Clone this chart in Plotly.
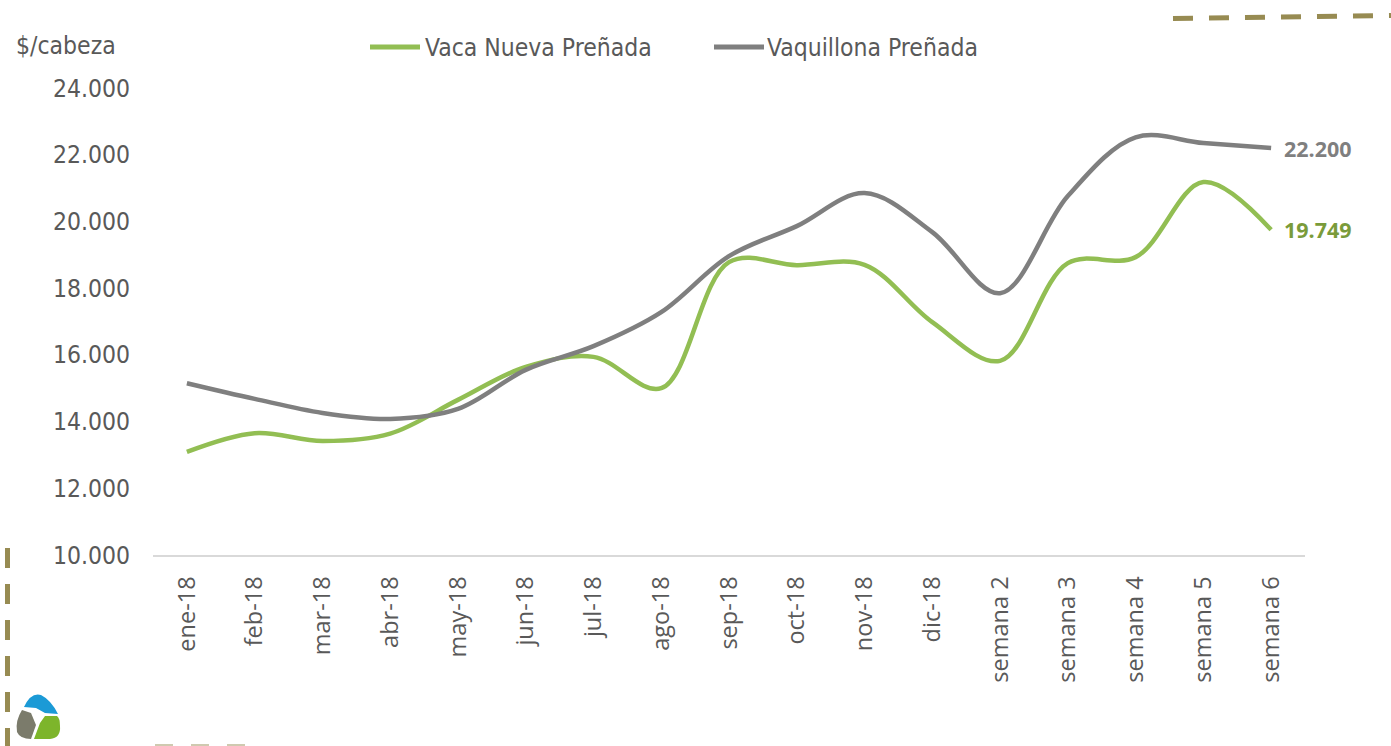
import plotly.graph_objects as go

categories = ["ene-18", "feb-18", "mar-18", "abr-18", "may-18", "jun-18", "jul-18",
              "ago-18", "sep-18", "oct-18", "nov-18", "dic-18", "semana 2",
              "semana 3", "semana 4", "semana 5", "semana 6"]
vaca_nueva = [13090, 13650, 13420, 13640, 14650, 15640, 15940, 15000, 18780,
              18690, 18700, 16980, 15820, 18750, 18930, 21180, 19749]
vaquillona = [15150, 14680, 14260, 14080, 14380, 15550, 16260, 17280, 18960,
              19860, 20850, 19680, 17850, 20760, 22520, 22350, 22200]
y_ticks = [10000, 12000, 14000, 16000, 18000, 20000, 22000, 24000]

W, H = 1391, 746
L, R, T, B = 153, 86, 88, 191
PW, PH = W - L - R, H - T - B

GREEN = "#92BE53"
GREEN_LBL = "#7A9B3A"
GRAY = "#7F7F7F"
OLIVE = "#978B52"
COND = "DejaVu Sans Condensed, DejaVu Sans, sans-serif"
BOLD = "Open Sans, sans-serif"


def fmt(v):
    return f"{v:,}".replace(",", ".")


def px(x):
    return (x - L) / PW


def py(y):
    return (H - B - y) / PH


def P(x, y):
    return f"{px(x):.5f},{py(y):.5f}"


fig = go.Figure()
fig.add_trace(go.Scatter(x=categories, y=vaca_nueva, mode="lines",
                         name="Vaca Nueva Preñada",
                         line=dict(color=GREEN, width=4.5, shape="spline", smoothing=1.0)))
fig.add_trace(go.Scatter(x=categories, y=vaquillona, mode="lines",
                         name="Vaquillona Preñada",
                         line=dict(color=GRAY, width=4.5, shape="spline", smoothing=1.0)))

annotations = [
    dict(x=categories[-1], y=vaquillona[-1], xref="x", yref="y", text=f"<b>{fmt(vaquillona[-1])}</b>",
         showarrow=False, xanchor="left", yanchor="middle", xshift=11,
         font=dict(family=BOLD, size=21.5, color=GRAY)),
    dict(x=categories[-1], y=vaca_nueva[-1], xref="x", yref="y", text=f"<b>{fmt(vaca_nueva[-1])}</b>",
         showarrow=False, xanchor="left", yanchor="middle", xshift=11,
         font=dict(family=BOLD, size=21.5, color=GREEN_LBL)),
    dict(x=px(14), y=py(46), xref="paper", yref="paper", text="$/cabeza", showarrow=False,
         xanchor="left", yanchor="middle", font=dict(family=COND, size=24.5, color="#595959")),
    dict(x=px(423), y=py(47), xref="paper", yref="paper", text="Vaca Nueva Preñada", showarrow=False,
         xanchor="left", yanchor="middle", font=dict(family=COND, size=24.5, color="#595959")),
    dict(x=px(765), y=py(47), xref="paper", yref="paper", text="Vaquillona Preñada", showarrow=False,
         xanchor="left", yanchor="middle", font=dict(family=COND, size=24.5, color="#595959")),
]

shapes = [
    # legend swatches
    dict(type="line", xref="paper", yref="paper", x0=px(370), x1=px(420), y0=py(47), y1=py(47),
         line=dict(color=GREEN, width=5)),
    dict(type="line", xref="paper", yref="paper", x0=px(714), x1=px(764), y0=py(47), y1=py(47),
         line=dict(color=GRAY, width=5)),
    # decorative dashed lines
    dict(type="line", xref="paper", yref="paper", x0=px(1173), x1=px(1391), y0=py(18.5), y1=py(15.5),
         line=dict(color=OLIVE, width=5, dash="20px,16px")),
    dict(type="line", xref="paper", yref="paper", x0=px(7.5), x1=px(7.5), y0=py(548), y1=py(746),
         line=dict(color=OLIVE, width=5, dash="20px,16px")),
    dict(type="line", xref="paper", yref="paper", x0=px(155), x1=px(250), y0=py(745), y1=py(745),
         line=dict(color="#CFCAB0", width=2, dash="18px,18px")),
    # logo: blue top
    dict(type="path", xref="paper", yref="paper", fillcolor="#1B9AD6", line=dict(width=0),
         path=f"M {P(24,707)} Q {P(31,692)} {P(41,695)} Q {P(51,700)} {P(58,714)} "
              f"L {P(45,713)} L {P(36,708)} Z"),
    # logo: gray left
    dict(type="path", xref="paper", yref="paper", fillcolor="#7B7B6B", line=dict(width=0),
         path=f"M {P(22,710)} Q {P(15,721)} {P(17,732)} Q {P(20,739)} {P(31,739)} "
              f"L {P(36,725)} L {P(31,713)} Z"),
    # logo: green bottom right
    dict(type="path", xref="paper", yref="paper", fillcolor="#7DB52B", line=dict(width=0),
         path=f"M {P(34,739)} L {P(50,739)} Q {P(61,738)} {P(60,726)} Q {P(60,718)} {P(57,716)} "
              f"L {P(45,716)} L {P(40,723)} Z"),
]

fig.update_layout(
    width=W, height=H, autosize=False,
    margin=dict(l=L, r=R, t=T, b=B, pad=0),
    paper_bgcolor="white", plot_bgcolor="white",
    showlegend=False,
    annotations=annotations,
    shapes=shapes,
    xaxis=dict(type="category", categoryorder="array", categoryarray=categories,
               range=[-0.5, len(categories) - 0.5],
               showgrid=False, zeroline=False, showline=True, linecolor="#D9D9D9", linewidth=2,
               ticks="", tickangle=-90, ticklabelstandoff=10,
               tickfont=dict(family="Open Sans, sans-serif", size=23.5, color="#595959")),
    yaxis=dict(range=[10000, 24000], tickvals=y_ticks, ticktext=[fmt(v) for v in y_ticks],
               showgrid=False, zeroline=False, showline=False, ticks="", ticklabelstandoff=22,
               tickfont=dict(family=COND, size=24.5, color="#595959")),
)

fig.write_html("out.html", config={"displayModeBar": False})

# remove the default page margin so the figure sits at the window's top-left corner
with open("out.html", "r", encoding="utf-8") as f:
    html = f.read()
html = html.replace("<head>", "<head><style>html,body{margin:0;padding:0;overflow:hidden;}</style>", 1)
with open("out.html", "w", encoding="utf-8") as f:
    f.write(html)
